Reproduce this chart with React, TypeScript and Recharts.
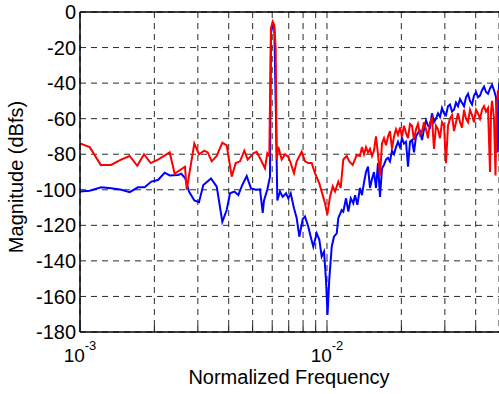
import React from 'react';
import { LineChart, Line, XAxis, YAxis, CartesianGrid, ReferenceLine } from 'recharts';

// Output spectrum magnitude, two captures
const redFreq = [
  0.001, 0.001095, 0.001213, 0.001335, 0.001466, 0.001589, 0.001706, 0.001816, 0.001933, 0.002069,
  0.002308, 0.002417, 0.002533, 0.002661, 0.002704, 0.002903, 0.003032, 0.003186, 0.003289, 0.003414,
  0.003577, 0.003769, 0.003926, 0.004114, 0.00427, 0.004444, 0.004626, 0.004775, 0.00503, 0.005192,
  0.00539, 0.00561, 0.005731, 0.005839, 0.005933, 0.006028, 0.006118, 0.006199, 0.006257, 0.00635,
  0.006555, 0.006761, 0.006971, 0.007129, 0.007352, 0.007539, 0.007899, 0.008145, 0.0084, 0.00867,
  0.008942, 0.009307, 0.009607, 0.009815, 0.01003, 0.01028, 0.01055, 0.01078, 0.01111, 0.01136,
  0.01164, 0.01202, 0.01231, 0.01271, 0.01319,
  0.0136, 0.013856, 0.014117, 0.014383, 0.014653, 0.014929, 0.01521, 0.015496, 0.015788, 0.016085,
  0.016388, 0.016696, 0.017011, 0.017331, 0.017657, 0.01799, 0.018328, 0.018673, 0.019025, 0.019383,
  0.019748, 0.020119, 0.020498, 0.020884, 0.021277, 0.021678, 0.022086, 0.022501, 0.022925, 0.023356,
  0.023796, 0.024244, 0.0247, 0.025165, 0.025639, 0.026122, 0.026613, 0.027114, 0.027625, 0.028145,
  0.028674, 0.029214, 0.029764, 0.030324, 0.030895, 0.031477, 0.032069, 0.032673, 0.033288, 0.033914,
  0.034553, 0.035203, 0.035866, 0.036541, 0.037229, 0.037929, 0.038643, 0.039371, 0.040112, 0.040867,
  0.041636, 0.04242, 0.043218, 0.044032, 0.044861, 0.045705, 0.046136, 0.046567, 0.047444, 0.04811,
  0.048563, 0.049246, 0.04971,
];
const redMag = [
  -74, -76, -86, -86, -83, -81, -86.5, -80, -85, -83,
  -79, -91, -89, -87, -100, -74, -80, -78, -79, -84,
  -81, -73.5, -75, -92.6, -85, -84, -78, -83, -79.5, -78.6,
  -83, -88, -79.5, -81, -9, -5.4, -7.3, -21, -83, -75.8,
  -83, -80, -81.5, -85, -90.7, -84, -78.6, -84, -85, -85,
  -90.6, -96.4, -103, -107.6, -114, -104, -98, -101, -95.5, -99,
  -83, -81, -84, -86, -80.5,
  -81, -76, -80, -76, -79, -77, -81, -78, -70, -80,
  -92, -74, -71, -75, -70, -67, -77, -70, -66, -69,
  -65, -70, -64, -68, -71, -63, -64, -72, -66, -63,
  -69, -67, -62, -66, -71, -62, -60, -77, -64, -66,
  -71, -62, -64, -85, -64, -60, -58, -67, -62, -57,
  -62, -65, -55, -60, -62, -55, -58, -62, -55, -57,
  -60, -55, -53, -56, -54, -90, -56, -50, -60, -92,
  -55, -44, -49,
];

const blueFreq = [
  0.001, 0.001095, 0.001219, 0.001339, 0.00147, 0.001589, 0.001717, 0.001828, 0.001944, 0.002069,
  0.002203, 0.002308, 0.002493, 0.002571, 0.002669, 0.002763, 0.002903, 0.003032, 0.003157, 0.003392,
  0.003577, 0.003769, 0.003926, 0.004049, 0.004215, 0.004375, 0.004541, 0.004731, 0.004924, 0.005145,
  0.005355, 0.005492, 0.005559, 0.005731, 0.005877, 0.005933, 0.006028, 0.006118, 0.006216, 0.006293,
  0.006452, 0.006616, 0.006823, 0.006971, 0.007129, 0.007352, 0.007539, 0.007725, 0.007973, 0.008145,
  0.0084, 0.00859, 0.008801, 0.009085, 0.009307, 0.009517, 0.009725, 0.009908, 0.01005, 0.01021,
  0.01045, 0.01067, 0.01095, 0.01111, 0.01147, 0.01164, 0.01194, 0.0122, 0.01248, 0.01278,
  0.01299, 0.01327,
  0.0136, 0.013856, 0.014117, 0.014383, 0.014653, 0.014929, 0.01521, 0.015496, 0.015788, 0.016085,
  0.016388, 0.016696, 0.017011, 0.017331, 0.017657, 0.01799, 0.018328, 0.018673, 0.019025, 0.019383,
  0.019748, 0.020119, 0.020498, 0.020884, 0.021277, 0.021678, 0.022086, 0.022501, 0.022925, 0.023356,
  0.023796, 0.024244, 0.0247, 0.025165, 0.025639, 0.026122, 0.026613, 0.027114, 0.027625, 0.028145,
  0.028674, 0.029214, 0.029764, 0.030324, 0.030895, 0.031477, 0.032069, 0.032673, 0.033288, 0.033914,
  0.034553, 0.035203, 0.035866, 0.036541, 0.037229, 0.037929, 0.038643, 0.039371, 0.040112, 0.040867,
  0.041636, 0.04242, 0.043218, 0.044032, 0.044861, 0.045705, 0.046567, 0.047444, 0.048337, 0.04911,
  0.04971,
];
const blueMag = [
  -101, -100.5, -98.6, -99.2, -100, -101.3, -98.6, -98.6, -95.4, -94.5,
  -90.4, -91.9, -91.7, -91, -93.6, -101, -106, -107, -97.3, -93.6,
  -98.2, -118, -111.4, -102, -101, -103, -97.3, -92.3, -99.2, -100,
  -99.7, -113, -106, -100, -92.6, -12, -7, -9, -60, -106,
  -101, -104, -102, -104.8, -102, -110.4, -116, -126.4, -116.5, -115,
  -120.8, -126.4, -132, -124.5, -128, -137.6, -134.8, -150.8, -170.4, -150.8,
  -132, -126.4, -124.5, -116, -111.4, -112.3, -104.8, -112.3, -104.8, -107.6,
  -103, -108.5,
  -99, -103, -96, -90, -87, -99, -94, -90, -99, -85,
  -104, -88, -86, -83, -82, -84, -78, -80, -76, -73,
  -76, -71, -74, -73, -87, -73, -72, -79, -70, -68,
  -67, -72, -66, -61, -64, -65, -57, -62, -60, -57,
  -59, -54, -57, -58, -53, -52, -56, -55, -51, -53,
  -49, -51, -53, -48, -46, -50, -52, -47, -45, -48,
  -47, -44, -42, -45, -46, -43, -41, -44, -48, -79,
  -40,
];

const xTicks = [0.001, 0.002, 0.003, 0.004, 0.005, 0.006, 0.007, 0.008, 0.009, 0.01, 0.02, 0.03, 0.04];
const xDecadeLabels = [
  { value: 0.001, exp: '-3' },
  { value: 0.01, exp: '-2' },
];
const yTicks = [0, -20, -40, -60, -80, -100, -120, -140, -160, -180];

const redData = redFreq.map((f, i) => ({ f, mag: redMag[i] }));
const blueData = blueFreq.map((f, i) => ({ f, mag: blueMag[i] }));

const FONT = '"Liberation Sans", Arial, Helvetica, sans-serif';

const FreqTick = (props: any) => {
  const { x, y, payload } = props;
  const label = xDecadeLabels.find((d) => Math.abs(d.value - payload.value) < 1e-9);
  return (
    <g>
      <line x1={x} y1={y} x2={x} y2={y - 6} stroke="#000" strokeWidth={1} />
      {label && (
        <text x={x} y={y + 30} textAnchor="middle" fontSize={19} fontFamily={FONT} fill="#000">
          10
          <tspan dy={-12} fontSize={13}>{label.exp}</tspan>
        </text>
      )}
    </g>
  );
};

export default function App() {
  return (
    <div style={{ position: 'absolute', left: 0, top: 0, width: 499, height: 394, background: '#fff' }}>
      <LineChart
        width={499}
        height={394}
        margin={{ top: 12, right: 0, bottom: 0, left: 0 }}
        style={{ fontFamily: FONT }}
      >
        <CartesianGrid stroke="#2a2a2a" strokeDasharray="6 5" strokeWidth={1} />
        <XAxis
          type="number"
          dataKey="f"
          scale="log"
          domain={[0.001, 0.0497]}
          allowDataOverflow
          ticks={xTicks}
          tick={<FreqTick />}
          tickLine={false}
          tickSize={0}
          tickMargin={0}
          height={62}
          interval={0}
          axisLine={{ stroke: '#000', strokeWidth: 1.5 }}
          label={{
            content: () => (
              <text x={289} y={384} textAnchor="middle" fontSize={20} fontFamily={FONT} fill="#000">
                Normalized Frequency
              </text>
            ),
          }}
        />
        <YAxis
          type="number"
          domain={[-180, 0]}
          ticks={yTicks}
          interval={0}
          width={80}
          tickLine={false}
          tickSize={0}
          tickMargin={4}
          tick={{ fontSize: 20, fill: '#000', fontFamily: FONT }}
          axisLine={{ stroke: '#000', strokeWidth: 1.5 }}
          label={{
            content: () => (
              <text
                x={0}
                y={0}
                transform="translate(23, 177) rotate(-90)"
                textAnchor="middle"
                fontSize={20}
                fontFamily={FONT}
                fill="#000"
              >
                Magnitude (dBfs)
              </text>
            ),
          }}
        />
        <ReferenceLine y={0} stroke="#000" strokeWidth={1.5} />
        <Line
          data={blueData}
          dataKey="mag"
          stroke="#0000ff"
          strokeWidth={2}
          dot={false}
          isAnimationActive={false}
        />
        <Line
          data={redData}
          dataKey="mag"
          stroke="#ff0000"
          strokeWidth={2}
          dot={false}
          isAnimationActive={false}
        />
      </LineChart>
    </div>
  );
}
